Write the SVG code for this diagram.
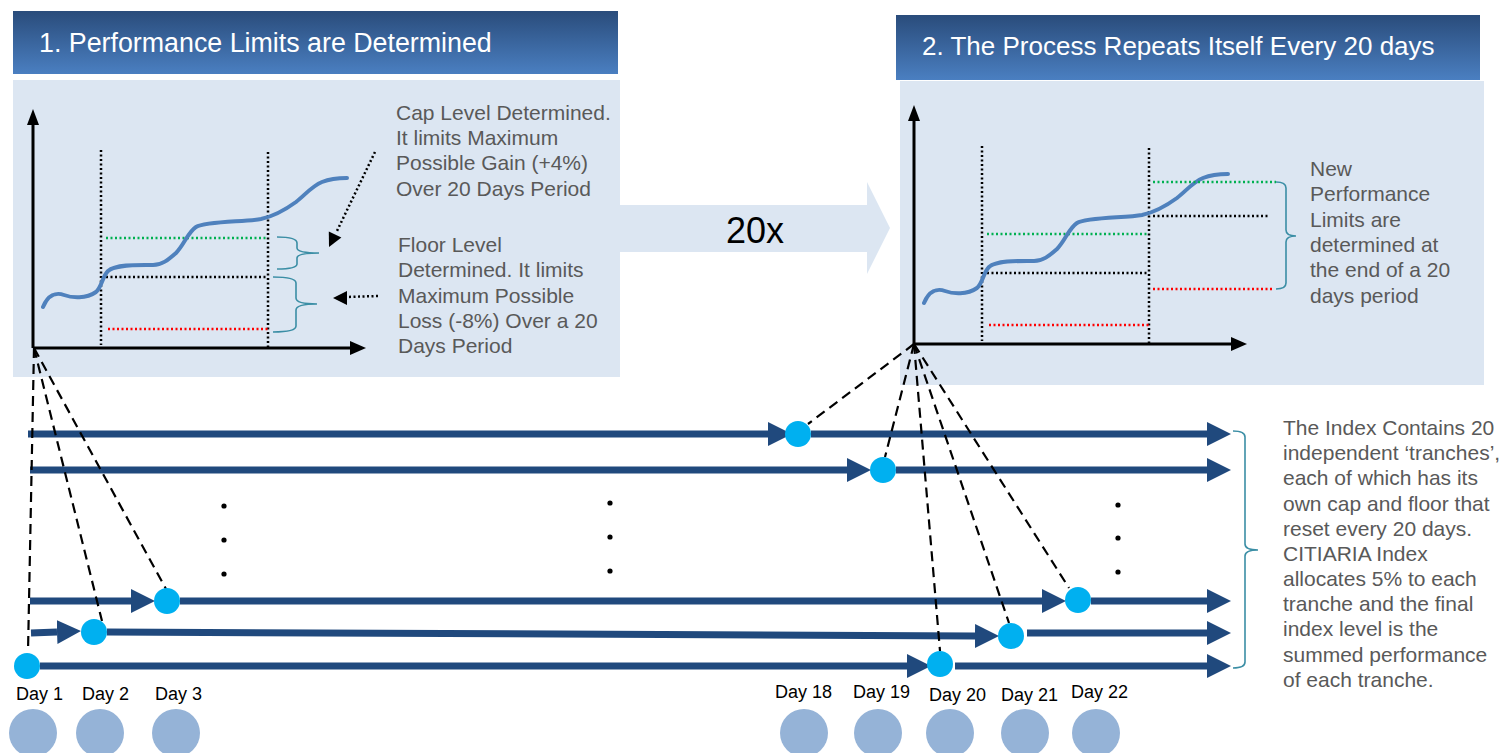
<svg xmlns="http://www.w3.org/2000/svg" xmlns:xlink="http://www.w3.org/1999/xlink" width="1508" height="753" viewBox="0 0 1508 753">
<style>
.hdr{font-family:"Liberation Sans",Arial,sans-serif;font-size:26px;fill:#ffffff}
.note{font-family:"Liberation Sans",Arial,sans-serif;font-size:21px;fill:#595959}
.day{font-family:"Liberation Sans",Arial,sans-serif;font-size:18px;fill:#000000}
.body{fill:#dce6f2}
.axis{stroke:#000;stroke-width:3;fill:none}
.vdot{stroke:#000;stroke-width:2.5;stroke-dasharray:2 2.5;fill:none}
.gdot{stroke:#00b050;stroke-width:2.5;stroke-dasharray:2 2.5;fill:none}
.bdot{stroke:#000;stroke-width:2.5;stroke-dasharray:2 2.5;fill:none}
.rdot{stroke:#ff0000;stroke-width:2.5;stroke-dasharray:2 2.5;fill:none}
.curve{stroke:#4f81bd;stroke-width:4;fill:none;stroke-linecap:round}
.brace{stroke:#3b8ea5;stroke-width:1.6;fill:none}
.tr{stroke:#20497d;stroke-width:7;fill:none}
.dash{stroke:#000;stroke-width:2.2;stroke-dasharray:10 6;fill:none}
.pt{fill:#00b0f0}
.gc{fill:#95b3d7}
.ell{fill:#000}
</style>
<defs>
<linearGradient id="hg" x1="0" y1="0" x2="0" y2="1">
<stop offset="0" stop-color="#2a4c7b"/>
<stop offset="1" stop-color="#4a7fc1"/>
</linearGradient>
<marker id="ah" markerUnits="userSpaceOnUse" markerWidth="24" markerHeight="24" refX="0" refY="12" orient="auto">
<path d="M0,0 L24,12 L0,24 z" fill="#20497d"/>
</marker>
<g id="chart">
<line class="axis" x1="33" y1="348" x2="33" y2="122"/>
<polygon points="27,125 33,109 39,125" fill="#000"/>
<line class="axis" x1="33" y1="348" x2="352" y2="348"/>
<polygon points="350,341 366,348 350,355" fill="#000"/>
<line class="vdot" x1="101" y1="150" x2="101" y2="345"/>
<line class="vdot" x1="268" y1="152" x2="268" y2="347"/>
<line class="gdot" x1="106" y1="238" x2="268" y2="238"/>
<line class="bdot" x1="106" y1="277" x2="268" y2="277"/>
<line class="rdot" x1="108" y1="329" x2="268" y2="329"/>
<path class="curve" d="M43,307 C48,295 56,292 64,295 C72,298 86,299 96,292 C102,287 102,277 108,271 C116,264 140,265 153,265 C162,265 168,260 176,253 C184,245 188,232 196,227 C206,221 245,222 261,219 C275,216 285,210 296,202 C305,195 312,186 322,182 C332,178 340,178 347,178"/>
</g>
</defs>

<g id="panel1">
<rect class="body" x="13" y="80" width="607" height="297"/>
<rect x="13" y="11" width="605" height="63" fill="url(#hg)"/>
<text class="hdr" x="39" y="52" font-size="26.8" style="font-size:26.8px">1. Performance Limits are Determined</text>
<use xlink:href="#chart"/>
<path class="brace" d="M277,237 Q297,237 297,243 L297,248 Q297,253 319,253 Q297,253 297,258 L297,264 Q297,269 277,269"/>
<path class="brace" d="M273,277 Q296,277 296,283 L296,298 Q296,304 317,304 Q296,304 296,310 L296,326 Q296,332 273,332"/>
<line class="vdot" x1="375" y1="152" x2="336" y2="233"/>
<polygon points="329,247 341.4,237.5 328.8,231.4" fill="#000"/>
<line class="vdot" x1="378" y1="296" x2="346" y2="297"/>
<polygon points="333,298 347,291 347,305" fill="#000"/>
<text class="note"><tspan x="396" y="120">Cap Level Determined.</tspan><tspan x="396" y="145">It limits Maximum</tspan><tspan x="396" y="170">Possible Gain (+4%)</tspan><tspan x="396" y="196">Over 20 Days Period</tspan></text>
<text class="note"><tspan x="398" y="252">Floor Level</tspan><tspan x="398" y="277">Determined. It limits</tspan><tspan x="398" y="303">Maximum Possible</tspan><tspan x="398" y="328">Loss (-8%) Over a 20</tspan><tspan x="398" y="353">Days Period</tspan></text>
</g>

<g id="repeat-arrow">
<polygon class="body" points="620,205 867,205 867,182 890,228 867,274 867,252 620,252"/>
<text x="755" y="243" text-anchor="middle" font-family="Liberation Sans, Arial, sans-serif" font-size="36" fill="#000">20x</text>
</g>

<g id="panel2">
<rect class="body" x="900" y="81" width="584" height="304"/>
<rect x="896" y="15" width="584" height="65" fill="url(#hg)"/>
<text class="hdr" x="922" y="55">2. The Process Repeats Itself Every 20 days</text>
<use xlink:href="#chart" transform="translate(881,-4)"/>
<line class="gdot" x1="1153" y1="182" x2="1276" y2="182"/>
<line class="bdot" x1="1153" y1="216" x2="1270" y2="216"/>
<line class="rdot" x1="1153" y1="289" x2="1273" y2="289"/>
<path class="brace" d="M1276,182 Q1286,182 1286,188 L1286,230 Q1286,236 1296,236 Q1286,236 1286,242 L1286,283 Q1286,289 1276,289"/>
<text class="note"><tspan x="1310" y="176">New</tspan><tspan x="1310" y="201">Performance</tspan><tspan x="1310" y="227">Limits are</tspan><tspan x="1310" y="252">determined at</tspan><tspan x="1310" y="277">the end of a 20</tspan><tspan x="1310" y="303">days period</tspan></text>
</g>

<g id="connectors">
<line class="tr" x1="28" y1="434" x2="768" y2="434" marker-end="url(#ah)"/>
<line class="tr" x1="811" y1="434" x2="1207" y2="434" marker-end="url(#ah)"/>
<line class="tr" x1="30" y1="470" x2="847" y2="470" marker-end="url(#ah)"/>
<line class="tr" x1="896" y1="470" x2="1207" y2="470" marker-end="url(#ah)"/>
<line class="tr" x1="30" y1="601" x2="131" y2="601" marker-end="url(#ah)"/>
<line class="tr" x1="180" y1="601" x2="1042" y2="601" marker-end="url(#ah)"/>
<line class="tr" x1="1091" y1="601" x2="1207" y2="601" marker-end="url(#ah)"/>
<line class="tr" x1="31" y1="633" x2="57" y2="632" marker-end="url(#ah)"/>
<line class="tr" x1="107" y1="632" x2="975" y2="636" marker-end="url(#ah)"/>
<line class="tr" x1="1027" y1="633" x2="1207" y2="633" marker-end="url(#ah)"/>
<line class="tr" x1="40" y1="666" x2="907" y2="666" marker-end="url(#ah)"/>
<line class="tr" x1="955" y1="666" x2="1207" y2="666" marker-end="url(#ah)"/>
<line class="dash" x1="34" y1="348" x2="28" y2="652"/>
<line class="dash" x1="34" y1="348" x2="102" y2="621"/>
<line class="dash" x1="34" y1="348" x2="166" y2="589"/>
<line class="dash" x1="914" y1="344" x2="808" y2="424"/>
<line class="dash" x1="914" y1="344" x2="885" y2="457"/>
<line class="dash" x1="914" y1="344" x2="940" y2="651"/>
<line class="dash" x1="914" y1="344" x2="1009" y2="623"/>
<line class="dash" x1="914" y1="344" x2="1069" y2="588"/>
<path class="brace" d="M1233,431 Q1245,431 1245,437 L1245,544 Q1245,550 1258,550 Q1245,550 1245,556 L1245,662 Q1245,668 1233,668"/>
</g>

<g id="ellipsis">
<circle class="ell" cx="224" cy="506" r="2.6"/><circle class="ell" cx="224" cy="540" r="2.6"/><circle class="ell" cx="224" cy="574" r="2.6"/>
<circle class="ell" cx="610" cy="503" r="2.6"/><circle class="ell" cx="610" cy="537" r="2.6"/><circle class="ell" cx="610" cy="571" r="2.6"/>
<circle class="ell" cx="1118" cy="505" r="2.6"/><circle class="ell" cx="1118" cy="538" r="2.6"/><circle class="ell" cx="1118" cy="572" r="2.6"/>
</g>

<g id="day1"><circle class="pt" cx="27" cy="666" r="13"/><text class="day" x="16" y="700">Day 1</text><circle class="gc" cx="33" cy="733" r="24"/></g>
<g id="day2"><circle class="pt" cx="94" cy="632" r="13"/><text class="day" x="82" y="700">Day 2</text><circle class="gc" cx="100" cy="733" r="24"/></g>
<g id="day3"><circle class="pt" cx="167" cy="601" r="13"/><text class="day" x="155" y="700">Day 3</text><circle class="gc" cx="176" cy="733" r="24"/></g>
<g id="day18"><circle class="pt" cx="798" cy="434" r="13"/><text class="day" x="775" y="698">Day 18</text><circle class="gc" cx="804" cy="733" r="24"/></g>
<g id="day19"><circle class="pt" cx="883" cy="470" r="13"/><text class="day" x="853" y="698">Day 19</text><circle class="gc" cx="878" cy="733" r="24"/></g>
<g id="day20"><circle class="pt" cx="940" cy="664" r="13"/><text class="day" x="929" y="701">Day 20</text><circle class="gc" cx="950" cy="733" r="24"/></g>
<g id="day21"><circle class="pt" cx="1011" cy="636" r="13"/><text class="day" x="1001" y="701">Day 21</text><circle class="gc" cx="1025" cy="733" r="24"/></g>
<g id="day22"><circle class="pt" cx="1078" cy="600" r="13"/><text class="day" x="1071" y="698">Day 22</text><circle class="gc" cx="1096" cy="733" r="24"/></g>

<g id="index-note">
<text class="note"><tspan x="1283" y="435">The Index Contains 20</tspan><tspan x="1283" y="460">independent ‘tranches’,</tspan><tspan x="1283" y="485">each of which has its</tspan><tspan x="1283" y="511">own cap and floor that</tspan><tspan x="1283" y="536">reset every 20 days.</tspan><tspan x="1283" y="561">CITIARIA Index</tspan><tspan x="1283" y="586">allocates 5% to each</tspan><tspan x="1283" y="611">tranche and the final</tspan><tspan x="1283" y="636">index level is the</tspan><tspan x="1283" y="662">summed performance</tspan><tspan x="1283" y="687">of each tranche.</tspan></text>
</g>
</svg>
